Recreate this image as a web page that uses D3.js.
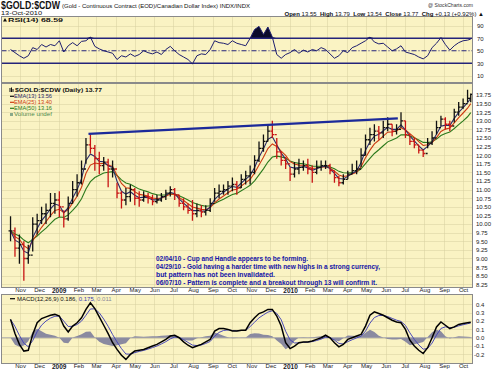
<!DOCTYPE html>
<html><head><meta charset="utf-8">
<script src="https://cdn.jsdelivr.net/npm/d3@7"></script>
<style>
body{margin:0;background:#fff}
svg{display:block}
text{font-family:"Liberation Sans",Arial,sans-serif}
</style>
</head><body>
<svg id="c" width="500" height="374"></svg>
<script>
// ---------------- DATA (weekly readings, Oct 17 2008 .. Oct 13 2010) ----------------
const closes = [9.8,9.3,9.4,9.0,9.1,10.0,10.1,10.3,10.4,10.6,
10.7,10.5,10.15,10.6,11.0,11.2,11.6,12.3,12.2,11.9,
11.7,11.8,11.6,11.6,10.9,10.7,10.8,11.0,10.75,10.7,
10.8,10.75,10.65,10.7,10.8,10.9,11.0,10.85,10.6,10.5,
10.4,10.3,10.4,10.35,10.4,10.6,10.9,10.95,11.0,11.1,
11.15,11.05,11.3,11.4,11.5,11.85,12.2,12.4,12.7,12.6,
12.1,11.85,11.75,11.45,11.6,11.65,11.7,11.6,11.5,11.65,
11.7,11.7,11.55,11.35,11.2,11.3,11.45,11.55,11.6,12.0,
12.45,12.6,12.7,12.65,12.8,12.9,12.7,12.75,13.0,12.6,
12.4,12.3,12.15,12.05,12.35,12.5,12.8,13.05,12.9,12.85,
13.25,13.4,13.5,13.65,13.77];
const highs = [10.23,9.9,9.7,9.5,9.4,10.2,10.3,10.5,10.6,10.9,
10.9,10.95,10.4,10.8,11.25,11.45,11.85,12.5,12.6,12.3,
12.1,11.95,11.9,11.85,11.2,10.95,11.05,11.15,11.05,10.95,
10.95,10.9,10.85,10.85,10.9,11.0,11.1,11.05,10.85,10.75,
10.6,10.7,10.6,10.55,10.55,10.75,11.05,11.15,11.15,11.25,
11.35,11.25,11.45,11.55,11.7,12.0,12.4,12.6,12.9,13.0,
12.5,12.1,11.95,11.65,11.8,11.9,11.85,11.9,11.7,11.85,
11.85,11.85,11.75,11.55,11.4,11.45,11.55,11.75,11.85,12.2,
12.6,12.8,12.9,12.85,13.0,13.1,12.9,12.9,13.25,13.0,
12.6,12.5,12.3,12.15,12.5,12.7,13.0,13.15,13.1,13.0,
13.35,13.55,13.65,13.9,13.79];
const lows = [9.5,9.05,8.85,8.35,8.85,9.2,9.7,10.0,10.0,10.2,
10.3,10.2,9.9,10.1,10.6,10.8,11.15,11.75,12.05,11.55,
11.45,11.55,11.07,11.35,10.75,10.45,10.55,10.65,10.55,10.5,
10.65,10.6,10.55,10.6,10.65,10.7,10.8,10.7,10.5,10.4,
10.3,10.1,10.2,10.2,10.25,10.35,10.65,10.75,10.85,10.85,
10.95,10.85,11.05,11.15,11.15,11.45,11.8,12.1,12.4,12.5,
11.9,11.7,11.6,11.25,11.35,11.45,11.55,11.45,11.2,11.45,
11.55,11.6,11.45,11.2,11.1,11.15,11.3,11.45,11.45,11.65,
12.0,12.3,12.4,12.45,12.5,12.7,12.55,12.6,12.8,12.5,
12.3,12.2,12.05,11.95,12.2,12.3,12.6,12.85,12.75,12.7,
12.95,13.15,13.35,13.55,13.54];
const rsiValues = [52,47,42,38,42,55,52,60,56,60,
58,66,48,58,63,58,65,66,72,57,
53,50,48,46,36,42,40,45,41,44,
50,47,45,48,44,52,57,50,44,40,
36,29,42,45,44,52,66,63,62,60,
66,62,60,58,70,84,89,76,88,72,
44,38,44,47,52,46,51,48,52,50,
55,52,45,38,42,50,47,55,58,62,
66,72,64,61,62,56,50,53,58,48,
46,44,40,37,42,55,62,71,60,51,
58,63,66,67,68.59];
const macdValues = [0.22,0.05,-0.08,-0.16,-0.15,0.04,0.18,0.23,0.25,0.27,
0.28,0.26,0.14,0.07,0.14,0.18,0.24,0.34,0.42,0.35,
0.25,0.15,0.05,-0.06,-0.14,-0.21,-0.26,-0.2,-0.16,-0.15,
-0.14,-0.12,-0.1,-0.08,-0.05,-0.02,0.02,0.03,0.0,-0.05,
-0.09,-0.12,-0.1,-0.08,-0.05,-0.02,0.08,0.11,0.11,0.1,
0.08,0.08,0.09,0.09,0.18,0.24,0.29,0.31,0.34,0.34,
0.26,0.14,-0.06,-0.13,-0.1,-0.06,-0.05,-0.05,-0.04,-0.02,
0.0,0.03,0.0,-0.06,-0.11,-0.08,-0.02,0.0,0.02,0.04,
0.14,0.27,0.31,0.29,0.27,0.24,0.21,0.19,0.18,0.1,
-0.03,-0.1,-0.15,-0.19,-0.12,0.0,0.13,0.19,0.15,0.11,
0.13,0.16,0.17,0.18,0.186];
const trendDates = ["2009-02-17","2010-06-20"];
const trendValues = [12.62,13.07];
const priceTicks = [8.25,8.5,8.75,9,9.25,9.5,9.75,10,10.25,10.5,10.75,11,11.25,11.5,11.75,12,12.25,12.5,12.75,13,13.25,13.5,13.75];
const rsiTicks = [10,30,50,70,90];
const macdTicks = [-0.2,-0.1,0,0.1,0.2,0.3,0.4];
const monthLabels = ["Nov","Dec","2009","Feb","Mar","Apr","May","Jun","Jul","Aug","Sep","Oct",
"Nov","Dec","2010","Feb","Mar","Apr","May","Jun","Jul","Aug","Sep","Oct"];
const annotations = ["02/04/10 - Cup and Handle appears to be forming.",
"04/29/10 - Gold having a harder time with new highs in a strong currency,",
"but pattern has not been invalidated.",
"06/07/10 - Pattern is complete and a breakout through 13 will confirm it."];

// ---------------- derived indicators ----------------
function ema(vals, alpha){ const out=[]; vals.forEach((v,i)=>out.push(i? out[i-1]+alpha*(v-out[i-1]) : v)); return out; }
const ema13 = ema(closes, 0.537), ema25 = ema(closes, 0.33), ema50 = ema(closes, 0.181);
const signal = ema(macdValues, 0.5);
const hist = macdValues.map((v,i)=>v-signal[i]);

const start = new Date(2008,9,17);
const dates = closes.map((_,i)=> i<104 ? d3.timeDay.offset(start,7*i) : new Date(2010,9,13));
const monthDates = d3.timeMonth.range(new Date(2008,10,1), new Date(2010,9,2));

// ---------------- layout ----------------
const svg = d3.select("#c");
const PL=1.5, PR=472.5, BG="#faf3c3", GRID="#d6cf9e";
const P = {rsi:[16.5,82.5], price:[83.5,287.5], macd:[294.5,363.5]};
const x = d3.scaleTime().domain([new Date(2008,9,13), new Date(2010,9,15)]).range([8,472]);
const yR = d3.scaleLinear().domain([0,100]).range([82,19.5]);
const yP = d3.scaleLinear().domain([8.25,13.75]).range([284.3,95]);
const yM = d3.scaleLinear().domain([-0.2,0.4]).range([354.4,304.4]);

const defs = svg.append("defs");
Object.entries(P).forEach(([k,[t,b]])=>{
  defs.append("clipPath").attr("id","clip-"+k).append("rect").attr("x",PL).attr("y",t).attr("width",PR-PL).attr("height",b-t);
  svg.append("rect").attr("x",PL).attr("y",t).attr("width",PR-PL).attr("height",b-t).attr("fill",BG);
});

function grid(key, yScale, ticks){
  const [t,b]=P[key];
  const g=svg.append("g").attr("clip-path",`url(#clip-${key})`);
  g.selectAll("line.v").data(monthDates).join("line")
    .attr("x1",d=>Math.round(x(d))+0.5).attr("x2",d=>Math.round(x(d))+0.5).attr("y1",t).attr("y2",b)
    .attr("stroke",GRID).attr("stroke-dasharray","1,1");
  g.selectAll("line.h").data(ticks).join("line")
    .attr("x1",PL).attr("x2",PR).attr("y1",d=>Math.round(yScale(d))+0.5).attr("y2",d=>Math.round(yScale(d))+0.5)
    .attr("stroke",GRID).attr("stroke-dasharray","1,1");
}
grid("rsi", yR, [10,90]);
grid("price", yP, priceTicks);
grid("macd", yM, macdTicks);

// ---------------- RSI ----------------
const gR = svg.append("g").attr("clip-path","url(#clip-rsi)");
gR.append("path").datum(rsiValues)
  .attr("d", d3.area().x((d,i)=>x(dates[i])).y0(yR(70)).y1(d=>yR(Math.max(d,70))))
  .attr("fill","#0b0b2a");
gR.append("path").datum(rsiValues)
  .attr("d", d3.area().x((d,i)=>x(dates[i])).y0(yR(30)).y1(d=>yR(Math.min(d,30))))
  .attr("fill","#0b0b2a");
[70,30].forEach(v=>gR.append("line").attr("x1",PL).attr("x2",PR).attr("y1",yR(v)).attr("y2",yR(v)).attr("stroke","#24247a").attr("stroke-width",1.6));
gR.append("line").attr("x1",PL).attr("x2",PR).attr("y1",yR(50)).attr("y2",yR(50)).attr("stroke","#24247a").attr("stroke-width",1).attr("stroke-dasharray","5,2,1,2");
gR.append("path").datum(rsiValues)
  .attr("d", d3.line().x((d,i)=>x(dates[i])).y(d=>yR(d)))
  .attr("fill","none").attr("stroke","#1e1e6e").attr("stroke-width",1);

// ---------------- price ----------------
const gP = svg.append("g").attr("clip-path","url(#clip-price)");
const line = arr => d3.line().x((d,i)=>x(dates[i])).y(d=>yP(d))(arr);
gP.append("path").attr("d",line(ema50)).attr("fill","none").attr("stroke","#2b7a1c").attr("stroke-width",1.1);
gP.append("path").attr("d",line(ema25)).attr("fill","none").attr("stroke","#cc3a12").attr("stroke-width",1.1);
gP.append("path").attr("d",line(ema13)).attr("fill","none").attr("stroke","#2a2a6a").attr("stroke-width",1.1);
const bars = gP.selectAll("g.bar").data(closes).join("g")
  .attr("stroke",(d,i)=> i>0 && d<closes[i-1] ? "#c81414" : "#111")
  .attr("stroke-width",1.3);
bars.append("line").attr("x1",(d,i)=>x(dates[i])).attr("x2",(d,i)=>x(dates[i]))
  .attr("y1",(d,i)=>yP(highs[i])).attr("y2",(d,i)=>yP(lows[i]));
bars.append("line").attr("x1",(d,i)=>x(dates[i])-2).attr("x2",(d,i)=>x(dates[i]))
  .attr("y1",(d,i)=>yP(i?closes[i-1]:d)).attr("y2",(d,i)=>yP(i?closes[i-1]:d));
bars.append("line").attr("x1",(d,i)=>x(dates[i])).attr("x2",(d,i)=>x(dates[i])+2)
  .attr("y1",d=>yP(d)).attr("y2",d=>yP(d));
gP.append("line")
  .attr("x1",x(new Date(trendDates[0]))).attr("y1",yP(trendValues[0]))
  .attr("x2",x(new Date(trendDates[1]))).attr("y2",yP(trendValues[1]))
  .attr("stroke","#1c2a9a").attr("stroke-width",2.4);

// annotations
const ann = svg.append("g").attr("font-size",7).attr("font-weight","bold").attr("fill","#1414a8");
const annW=[152,224,119,221], annY=[261,269.3,277,284.7];
annotations.forEach((s,i)=>ann.append("text").attr("x",156).attr("y",annY[i]).attr("textLength",annW[i]).attr("lengthAdjust","spacingAndGlyphs").text(s));

// ---------------- MACD ----------------
const gM = svg.append("g").attr("clip-path","url(#clip-macd)");
gM.append("path").datum(hist)
  .attr("d", d3.area().x((d,i)=>x(dates[i])).y0(yM(0)).y1(d=>yM(d)))
  .attr("fill","#8a8aa0");
gM.append("line").attr("x1",PL).attr("x2",PR).attr("y1",yM(0)).attr("y2",yM(0)).attr("stroke","#9a9aa8").attr("stroke-width",0.8);
gM.append("path").datum(signal)
  .attr("d", d3.line().x((d,i)=>x(dates[i])).y(d=>yM(d)))
  .attr("fill","none").attr("stroke","#4a4ab8").attr("stroke-width",1);
gM.append("path").datum(macdValues)
  .attr("d", d3.line().x((d,i)=>x(dates[i])).y(d=>yM(d)))
  .attr("fill","none").attr("stroke","#000").attr("stroke-width",1.5);

// panel borders
Object.values(P).forEach(([t,b])=>svg.append("rect").attr("x",PL).attr("y",t).attr("width",PR-PL).attr("height",b-t).attr("fill","none").attr("stroke","#8a8a8a").attr("stroke-width",1));

// ---------------- axes ----------------
function styleAxis(g){ g.select(".domain").remove(); g.selectAll("text").attr("font-family","Liberation Sans, Arial, sans-serif").attr("fill","#222"); }
svg.append("g").attr("transform","translate(472,0)")
  .call(d3.axisRight(yR).tickValues(rsiTicks).tickSize(0).tickPadding(5).tickFormat(d=>String(d)))
  .attr("font-size",6).call(styleAxis);
svg.append("g").attr("transform","translate(472,0)")
  .call(d3.axisRight(yP).tickValues(priceTicks).tickSize(0).tickPadding(4).tickFormat(d=>d.toFixed(2)))
  .attr("font-size",6).call(styleAxis);
svg.append("g").attr("transform","translate(472,0)")
  .call(d3.axisRight(yM).tickValues(macdTicks).tickSize(0).tickPadding(4).tickFormat(d=>(d<0?"-":"")+Math.abs(d).toFixed(1)))
  .attr("font-size",6).call(styleAxis)
  .selectAll("text").attr("dx",d=>d<0?-2:0);
[287,363].forEach(yy=>{
  const g=svg.append("g").attr("transform",`translate(0,${yy})`)
    .call(d3.axisBottom(x).tickValues(monthDates).tickSize(0).tickPadding(1).tickFormat((d,i)=>monthLabels[i]))
    .attr("font-size",6).call(styleAxis);
  g.selectAll("text").attr("font-weight",(d,i)=>/^\d{4}$/.test(monthLabels[i])?"bold":"normal").attr("font-size",(d,i)=>/^\d{4}$/.test(monthLabels[i])?6.5:6);
});

// ---------------- header & legends ----------------
svg.append("text").attr("x",1).attr("y",9.3).attr("font-size",10).attr("font-weight","bold").attr("fill","#111")
  .attr("textLength",59).attr("lengthAdjust","spacingAndGlyphs").text("$GOLD:$CDW");
svg.append("text").attr("x",62).attr("y",8).attr("font-size",5.8).attr("fill","#111")
  .attr("textLength",188).attr("lengthAdjust","spacingAndGlyphs").text("(Gold - Continuous Contract (EOD)/Canadian Dollar Index) INDX/INDX");
svg.append("text").attr("x",1).attr("y",15.3).attr("font-size",6).attr("fill","#111")
  .attr("textLength",41).attr("lengthAdjust","spacingAndGlyphs").text("13-Oct-2010");
svg.append("text").attr("x",428).attr("y",7.3).attr("font-size",5.5).attr("fill","#333")
  .attr("textLength",45).attr("lengthAdjust","spacingAndGlyphs").text("@ StockCharts.com");
const ohlc = svg.append("text").attr("x",484).attr("y",15.5).attr("font-size",6).attr("fill","#111").attr("text-anchor","end");
[["Open ",true],["13.55  ",false],["High ",true],["13.79  ",false],["Low ",true],["13.54  ",false],["Close ",true],["13.77  ",false],["Chg ",true],["+0.13 (+0.92%) ",false],["▲",false]]
  .forEach(([s,b])=>ohlc.append("tspan").attr("font-weight",b?"bold":"normal").attr("xml:space","preserve").text(s));

// RSI legend
svg.append("path").attr("d","M3,21.5 L5,18 L7,21.5 Z").attr("fill","#111");
svg.append("text").attr("x",8).attr("y",21.8).attr("font-size",6).attr("fill","#111").attr("font-weight","bold")
  .attr("textLength",55).attr("lengthAdjust","spacingAndGlyphs").text("RSI(14) 68.59");

// price legend
svg.append("path").attr("d","M10,92 L10,88 M11.5,92 L11.5,87.5 M13,92 L13,89").attr("stroke","#111").attr("stroke-width",1);
svg.append("text").attr("x",15).attr("y",92.3).attr("font-size",6).attr("fill","#111").attr("font-weight","bold")
  .attr("textLength",87).attr("lengthAdjust","spacingAndGlyphs").text("$GOLD:$CDW (Daily) 13.77");
const leg = [["EMA(13) 13.56","#2a2a6a"],["EMA(25) 13.40","#cc3a12"],["EMA(50) 13.16","#2b7a1c"]];
leg.forEach(([s,c],i)=>{
  const yy=98.3+6*i;
  svg.append("line").attr("x1",10).attr("x2",14).attr("y1",yy-2).attr("y2",yy-2).attr("stroke",i==0?"#111":c).attr("stroke-width",1.2);
  svg.append("text").attr("x",14).attr("y",yy).attr("font-size",5.8).attr("fill",c)
    .attr("textLength",38).attr("lengthAdjust","spacingAndGlyphs").text(s);
});
svg.append("rect").attr("x",10).attr("y",113).attr("width",3).attr("height",3).attr("fill","#8aaa8a");
svg.append("text").attr("x",14).attr("y",116.3).attr("font-size",5.8).attr("fill","#4e8a4e")
  .attr("textLength",38).attr("lengthAdjust","spacingAndGlyphs").text("Volume undef");

// MACD legend
svg.append("line").attr("x1",10).attr("x2",15).attr("y1",298.7).attr("y2",298.7).attr("stroke","#000").attr("stroke-width",1.2);
const ml = svg.append("text").attr("x",17).attr("y",300.8).attr("font-size",6).attr("fill","#111");
ml.append("tspan").attr("xml:space","preserve").text("MACD(12,26,9) 0.186, ");
ml.append("tspan").attr("fill","#3a3ab0").attr("xml:space","preserve").text("0.175, ");
ml.append("tspan").attr("fill","#8a8a9a").text("0.011");
</script>
</body></html>
